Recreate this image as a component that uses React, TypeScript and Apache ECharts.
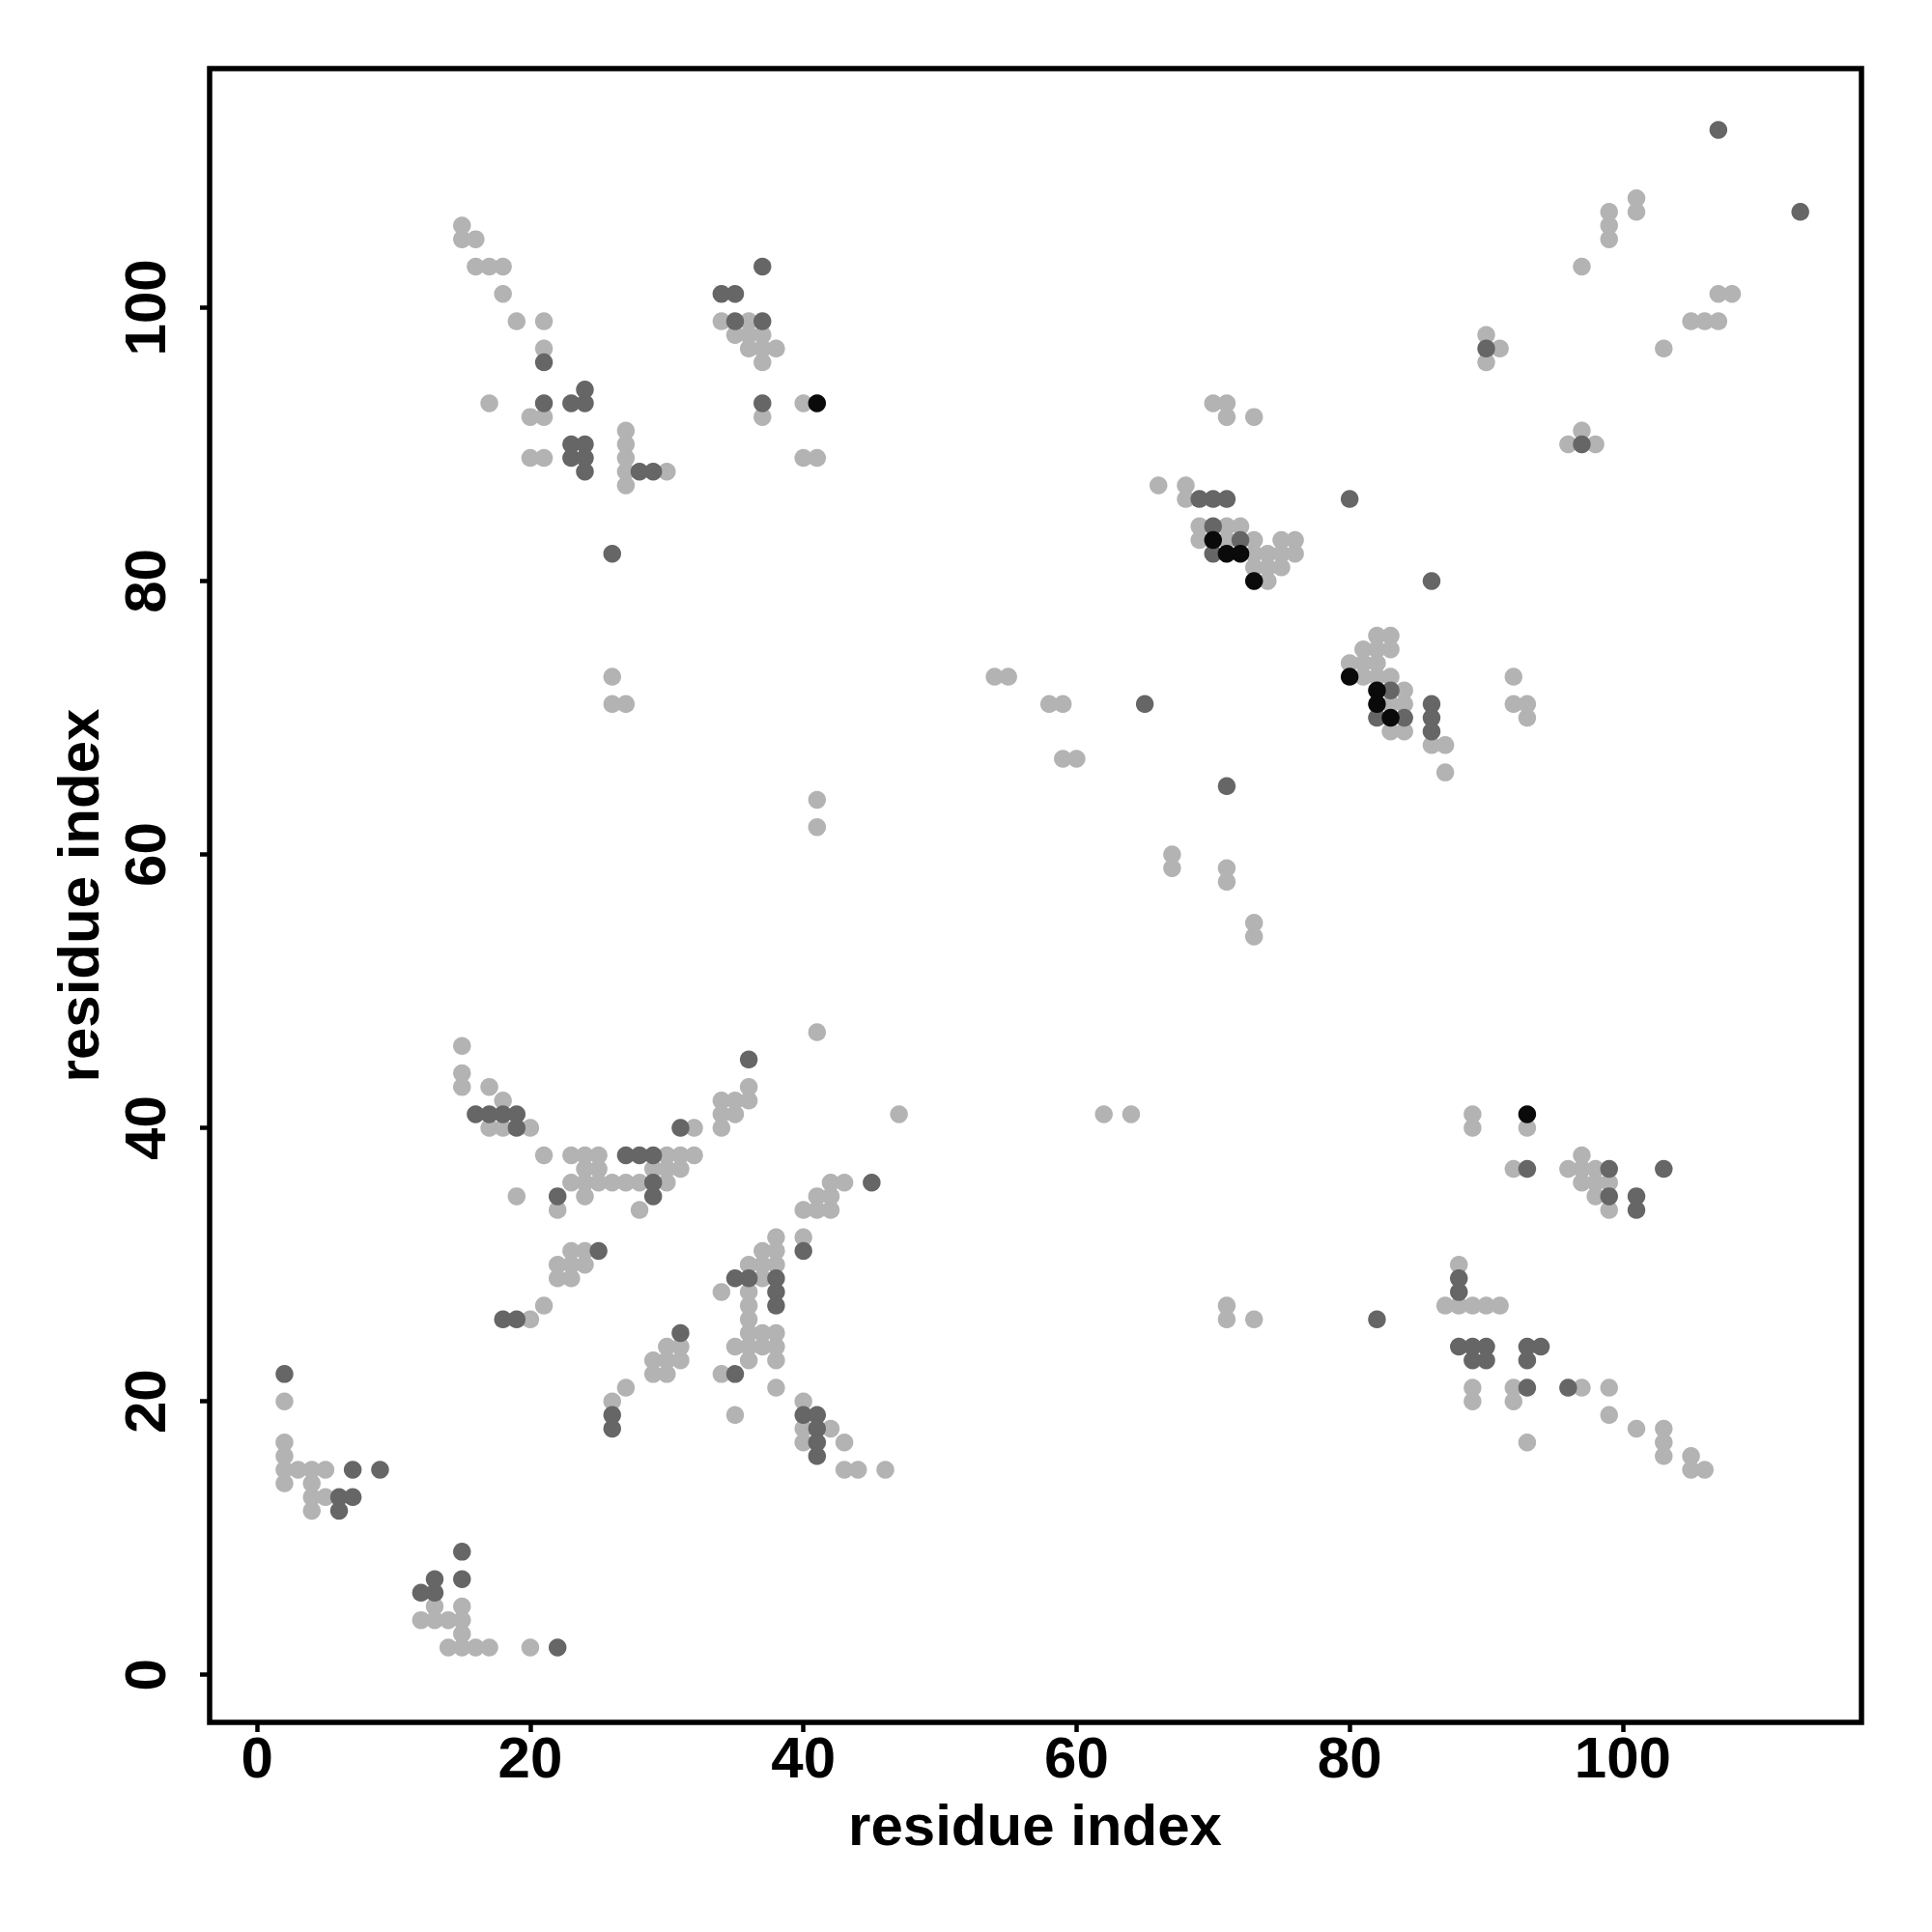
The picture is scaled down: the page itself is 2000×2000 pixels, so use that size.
import React, { useEffect, useRef } from "react";
import * as echarts from "echarts";

const tickValues = [0, 20, 40, 60, 80, 100];
const axisTitle = "residue index";

const lightPoints: number[][] = [
  [2, 20], [2, 17], [2, 16], [2, 15], [3, 15], [4, 15], [5, 15], [2, 14], [4, 14], [4, 13], [5, 13], [4, 12],
  [13, 5], [15, 5], [12, 4], [13, 4], [14, 4], [15, 4], [15, 3], [14, 2], [15, 2], [16, 2], [17, 2], [20, 2],
  [15, 46], [15, 44], [15, 43], [17, 43], [18, 42], [17, 40], [18, 40], [20, 40], [32, 40],
  [21, 38], [23, 38], [24, 38], [25, 38], [30, 38], [31, 38], [32, 38],
  [24, 37], [25, 37], [29, 37], [30, 37], [31, 37],
  [23, 36], [24, 36], [25, 36], [26, 36], [27, 36], [28, 36], [30, 36],
  [19, 35], [24, 35], [22, 34], [28, 34], [23, 31], [24, 31], [22, 30], [23, 30], [24, 30],
  [22, 29], [23, 29], [21, 27], [20, 26], [30, 24], [31, 24], [29, 23], [30, 23], [31, 23],
  [29, 22], [30, 22], [27, 21], [26, 20],
  [41, 47], [36, 43], [34, 42], [35, 42], [36, 42], [34, 41], [35, 41], [34, 40], [47, 41],
  [42, 36], [43, 36], [41, 35], [42, 35], [40, 34], [41, 34], [42, 34], [38, 32], [40, 32],
  [37, 31], [38, 31], [36, 30], [37, 30], [38, 30], [37, 29], [34, 28], [36, 28], [36, 27], [36, 26],
  [36, 25], [37, 25], [38, 25], [35, 24], [36, 24], [37, 24], [38, 24], [36, 23], [38, 23], [34, 22],
  [38, 21], [40, 20], [35, 19], [40, 18], [42, 18], [40, 17], [43, 17], [43, 15], [44, 15], [46, 15],
  [15, 106], [15, 105], [16, 105], [16, 103], [17, 103], [18, 103], [18, 101], [19, 99], [21, 99],
  [34, 99], [36, 99], [35, 98], [36, 98], [37, 98], [21, 97], [36, 97], [37, 97], [38, 97], [37, 96],
  [17, 93], [40, 93], [20, 92], [21, 92], [37, 92], [27, 91], [27, 90], [20, 89], [21, 89], [27, 89],
  [40, 89], [41, 89], [27, 88], [30, 88], [27, 87],
  [26, 73], [26, 71], [27, 71], [41, 64], [41, 62],
  [70, 93], [71, 93], [71, 92], [73, 92], [66, 87], [68, 87], [68, 86], [69, 84], [71, 84], [72, 84],
  [69, 83], [71, 83], [73, 83], [75, 83], [76, 83], [73, 82], [74, 82], [75, 82], [76, 82],
  [73, 81], [74, 81], [75, 81], [74, 80], [82, 76], [83, 76], [81, 75], [82, 75], [83, 75],
  [80, 74], [81, 74], [82, 74], [81, 73], [82, 73], [83, 73], [84, 72], [83, 71], [84, 71],
  [83, 69], [84, 69], [86, 68], [87, 68], [87, 66],
  [101, 108], [99, 107], [101, 107], [99, 106], [99, 105], [97, 103], [107, 101], [108, 101],
  [105, 99], [106, 99], [107, 99], [90, 98], [91, 97], [103, 97], [90, 96], [97, 91], [96, 90], [98, 90],
  [89, 41], [89, 40], [93, 40], [97, 38], [92, 37], [96, 37], [97, 37], [98, 37], [97, 36], [98, 36],
  [99, 36], [98, 35], [99, 34], [88, 30], [87, 27], [88, 27], [89, 27], [90, 27], [91, 27],
  [89, 21], [92, 21], [97, 21], [99, 21], [89, 20], [92, 20], [99, 19], [101, 18], [103, 18],
  [93, 17], [103, 17], [103, 16], [105, 16], [105, 15], [106, 15],
  [54, 73], [55, 73], [58, 71], [59, 71], [59, 67], [60, 67], [67, 60], [67, 59], [71, 59], [71, 58],
  [73, 55], [73, 54], [62, 41], [64, 41], [71, 27], [71, 26], [73, 26],
  [92, 73], [92, 71], [93, 71], [93, 70],
];

const darkPoints: number[][] = [
  [2, 22], [7, 15], [9, 15], [6, 13], [7, 13], [6, 12], [15, 9], [13, 7], [15, 7], [12, 6], [13, 6], [22, 2],
  [16, 41], [17, 41], [18, 41], [19, 41], [19, 40], [31, 40], [27, 38], [28, 38], [29, 38], [29, 36],
  [22, 35], [29, 35], [25, 31], [18, 26], [19, 26], [31, 25], [26, 19], [26, 18],
  [36, 45], [45, 36], [40, 31], [35, 29], [36, 29], [38, 29], [38, 28], [38, 27], [35, 22],
  [40, 19], [41, 19], [41, 18], [41, 17], [41, 16],
  [34, 101], [35, 101], [37, 103], [35, 99], [37, 99], [21, 96], [24, 94], [21, 93], [23, 93], [24, 93],
  [37, 93], [23, 90], [24, 90], [23, 89], [24, 89], [24, 88], [28, 88], [29, 88],
  [26, 82],
  [69, 86], [70, 86], [71, 86], [80, 86], [70, 84], [72, 83], [70, 82], [86, 80], [83, 72], [65, 71],
  [86, 71], [82, 70], [84, 70], [86, 70], [86, 69], [71, 65],
  [107, 113], [113, 107], [90, 97], [97, 90],
  [93, 37], [99, 37], [103, 37], [99, 35], [101, 35], [101, 34], [88, 29], [88, 28], [82, 26],
  [88, 24], [89, 24], [90, 24], [93, 24], [94, 24], [89, 23], [90, 23], [93, 23], [93, 21], [96, 21],
];

const blackPoints: number[][] = [
  [41, 93], [70, 83], [71, 82], [72, 82], [73, 80], [80, 73], [82, 72], [82, 71], [83, 70], [93, 41],
];

export default function App() {
  const ref = useRef<HTMLDivElement>(null);
  useEffect(() => {
    const chart = echarts.init(ref.current!, null, { renderer: "svg" });
    const font = "'Liberation Sans', Arial, Helvetica, sans-serif";
    const tickStyle = { color: "#000", width: 4.5 };
    const mkAxis = (margin: number, rotate: number) => ({
      type: "value",
      min: -3.48,
      max: 117.48,
      splitLine: { show: false },
      axisLine: { show: false, onZero: false },
      axisTick: { show: true, customValues: tickValues, length: 10, lineStyle: tickStyle },
      axisLabel: {
        customValues: tickValues,
        margin,
        rotate,
        fontFamily: font,
        fontWeight: "bold",
        fontSize: 60,
        color: "#000",
      },
    });
    const mkSeries = (data: number[][], color: string) => ({
      type: "scatter",
      data,
      symbol: "circle",
      symbolSize: 18.5,
      itemStyle: { color, opacity: 1 },
      emphasis: { disabled: true },
    });
    chart.setOption({
      animation: false,
      backgroundColor: "#ffffff",
      grid: {
        left: 217,
        top: 71,
        width: 1710,
        height: 1712,
        show: true,
        borderColor: "#000",
        borderWidth: 5.5,
        backgroundColor: "transparent",
      },
      xAxis: mkAxis(6, 0),
      yAxis: mkAxis(37, 90),
      series: [
        mkSeries(lightPoints, "#b3b3b3"),
        mkSeries(darkPoints, "#666666"),
        mkSeries(blackPoints, "#0a0a0a"),
      ],
      graphic: [
        {
          type: "text",
          x: 1071.5,
          y: 1889,
          style: {
            text: axisTitle,
            font: `bold 60px ${font}`,
            fill: "#000",
            align: "center",
            verticalAlign: "middle",
          },
        },
        {
          type: "text",
          x: 81,
          y: 927,
          rotation: Math.PI / 2,
          style: {
            text: axisTitle,
            font: `bold 60px ${font}`,
            fill: "#000",
            align: "center",
            verticalAlign: "middle",
          },
        },
      ],
    });
    return () => chart.dispose();
  }, []);
  return <div ref={ref} style={{ position: "absolute", left: 0, top: 0, width: 2000, height: 2000 }} />;
}
